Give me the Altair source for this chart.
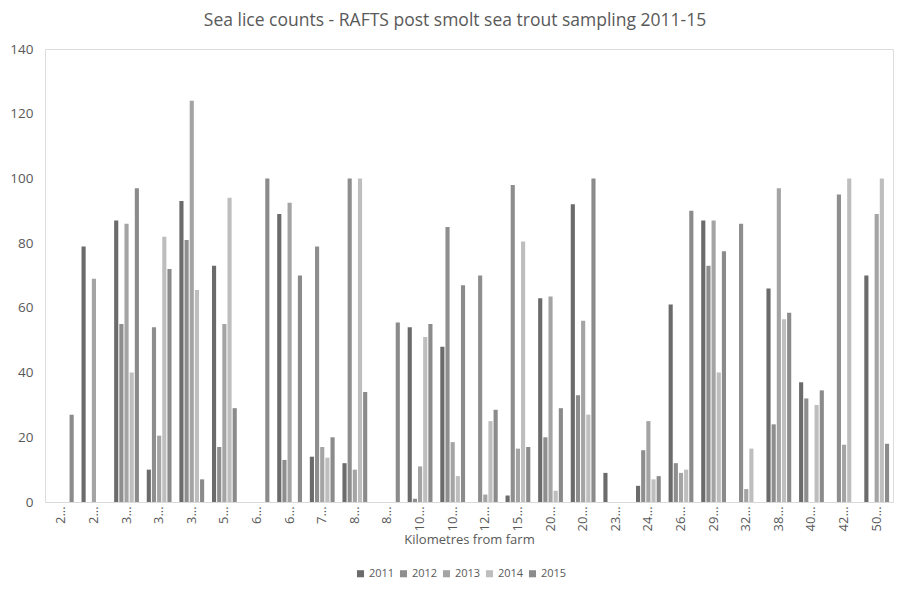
import altair as alt
import pandas as pd

labels = ["2…", "2…", "3…", "3…", "3…", "5…", "6…", "6…", "7…", "8…", "8…",
          "10…", "10…", "12…", "15…", "20…", "20…", "23…", "24…", "26…",
          "29…", "32…", "38…", "40…", "42…", "50…"]
years = ["2011", "2012", "2013", "2014", "2015"]

# values per category (None = no bar)
v2011 = [None, 79, 87, 10, 93, 73, None, 89, 14, 12, None, 54, 48, None, 2, 63, 92, 9, 5, 61, 87, None, 66, 37, None, 70]
v2012 = [None, None, 55, 54, 81, 17, None, 13, 79, 100, None, 1, 85, 70, 98, 20, 33, None, 16, 12, 73, 86, 24, 32, 95, None]
v2013 = [None, 69, 86, 20.5, 124, 55, None, 92.5, 17, 10, None, 11, 18.5, 2.3, 16.5, 63.5, 56, None, 25, 9, 87, 4, 97, None, 17.7, 89]
v2014 = [None, None, 40, 82, 65.5, 94, None, None, 13.7, 100, None, 51, 8, 25, 80.5, 3.5, 27, None, 7, 10, 40, 16.5, 56.5, 30, 100, 100]
v2015 = [27, None, 97, 72, 7, 29, 100, 70, 20, 34, 55.5, 55, 67, 28.5, 17, 29, 100, None, 8, 90, 77.5, None, 58.5, 34.5, None, 18]

colors = ["#6b6b6b", "#8e8e8e", "#a4a4a4", "#bebebe", "#8b8b8b"]

rows = []
for yr, vals in zip(years, [v2011, v2012, v2013, v2014, v2015]):
    for i, v in enumerate(vals):
        if v is not None:
            rows.append({"idx": i, "year": yr, "count": v})
df = pd.DataFrame(rows)

label_js = "[" + ",".join("'" + l + "'" for l in labels) + "][datum.value]"

FONT = "Open Sans"
chart = alt.Chart(df).mark_bar().encode(
    x=alt.X("idx:O", scale=alt.Scale(domain=list(range(len(labels))), paddingInner=0.24, paddingOuter=0.12),
            axis=alt.Axis(title="Kilometres from farm", labelExpr=label_js, labelAngle=270,
                          labelFontSize=13, labelColor="#595959", labelFont=FONT, labelPadding=4,
                          ticks=False, domainColor="#d9d9d9", titleFont=FONT, titleFontSize=13,
                          titleFontWeight="normal", titleColor="#595959", titlePadding=3)),
    xOffset=alt.XOffset("year:N", scale=alt.Scale(paddingInner=0.2)),
    y=alt.Y("count:Q", scale=alt.Scale(domain=[0, 140]),
            axis=alt.Axis(title=None, values=list(range(0, 141, 20)), grid=False, domain=False,
                          ticks=False, labelFontSize=13.5, labelColor="#595959", labelFont=FONT,
                          labelPadding=12)),
    color=alt.Color("year:N", scale=alt.Scale(domain=years, range=colors),
                    legend=alt.Legend(title=None, orient="none", legendX=310, legendY=519,
                                      direction="horizontal", symbolType="square", symbolSize=50,
                                      labelFontSize=11, labelColor="#595959", labelFont=FONT,
                                      labelOffset=3, columnPadding=3, symbolStrokeWidth=0)),
).properties(
    width=848, height=453,
    title=alt.TitleParams("Sea lice counts - RAFTS post smolt sea trout sampling 2011-15",
                          fontSize=17.5, font=FONT, fontWeight="normal", color="#595959",
                          offset=13, dx=-14),
    autosize=alt.AutoSizeParams(type="none"),
    padding={"left": 37, "top": 41, "right": 9, "bottom": 78},
).configure_view(stroke=None).configure(background="white")

chart.save("out.html", embed_options={"renderer": "svg", "actions": False})
